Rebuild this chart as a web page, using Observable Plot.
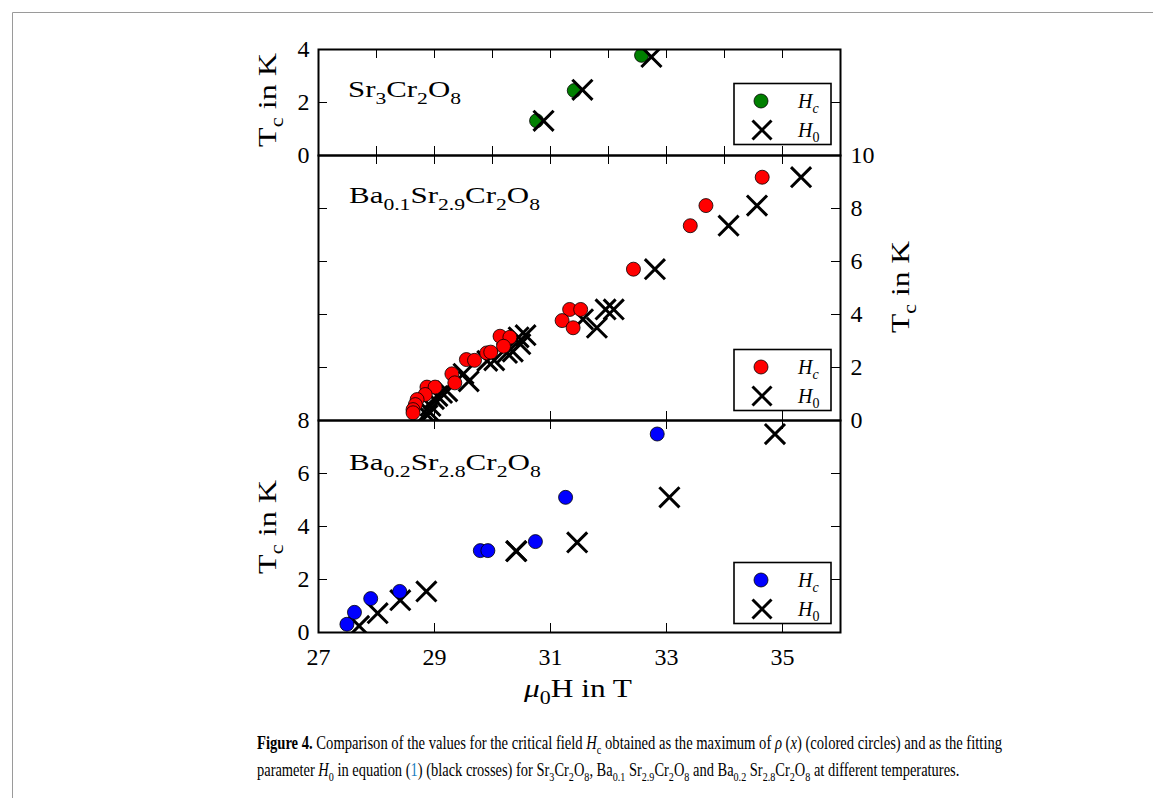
<!DOCTYPE html>
<html><head><meta charset="utf-8">
<script src="https://cdn.jsdelivr.net/npm/d3@7"></script>
<script src="https://cdn.jsdelivr.net/npm/@observablehq/plot@0.6"></script>
<style>
body{margin:0;background:#fff;}
#wrap{position:relative;width:1153px;height:798px;overflow:hidden;background:#fff;}
#wrap > svg{position:absolute;left:0;margin:0;}
</style></head><body><div id="wrap"></div>
<script>
// ---------- data ----------
const xTicksAll = [28, 29, 30, 31, 32, 33, 34, 35];
const xTicksOdd = [29, 31, 33, 35];
const xTickLabels = [27, 29, 31, 33, 35];

// Sr3Cr2O8
const srHcField = [30.76, 31.41, 32.57];
const srHcTemp  = [1.31, 2.45, 3.78];
const srH0Field = [30.88, 31.55, 32.74];
const srH0Temp  = [1.31, 2.48, 3.72];

// Ba0.1Sr2.9Cr2O8
const b1HcField = [34.65, 33.68, 33.41, 32.43, 31.33, 31.52, 31.20, 31.39, 30.13, 30.30, 30.19, 29.90, 29.97, 29.55, 29.69, 29.30, 29.35, 28.87, 29.01, 28.84, 28.70, 28.67, 28.63, 28.63];
const b1HcTemp  = [9.18, 8.11, 7.35, 5.71, 4.19, 4.19, 3.77, 3.50, 3.18, 3.14, 2.80, 2.55, 2.58, 2.30, 2.27, 1.76, 1.42, 1.26, 1.26, 0.98, 0.79, 0.60, 0.41, 0.29];
const b1H0Field = [35.32, 34.56, 34.07, 32.80, 31.95, 32.09, 31.56, 31.80, 30.57, 30.45, 30.48, 30.25, 30.35, 29.91, 30.03, 29.50, 29.59, 29.13, 29.22, 29.05, 28.99, 28.93, 28.90, 28.88];
const b1H0Temp  = [9.18, 8.11, 7.35, 5.71, 4.19, 4.19, 3.82, 3.50, 3.22, 3.14, 2.88, 2.55, 2.60, 2.25, 2.27, 1.76, 1.48, 1.04, 1.10, 0.92, 0.81, 0.55, 0.35, 0.20];

// Ba0.2Sr2.8Cr2O8
const b2HcField = [32.84, 31.26, 30.74, 29.79, 29.92, 28.40, 27.90, 27.62, 27.49];
const b2HcTemp  = [7.49, 5.10, 3.43, 3.09, 3.09, 1.55, 1.28, 0.76, 0.31];
const b2H0Field = [34.87, 33.05, 31.46, 30.41, 30.41, 28.86, 28.41, 28.02, 27.70];
const b2H0Temp  = [7.49, 5.10, 3.40, 3.07, 3.07, 1.55, 1.22, 0.73, 0.25];

const zip = (xs, ts) => xs.map((x, i) => ({x, t: ts[i]}));

// ---------- layout ----------
const W = 1153, ML = 318, MR = 313, PXU = 26.5, MT = 30;
const FONT = "'Liberation Serif', 'DejaVu Serif', serif";
const wrap = document.getElementById("wrap");

function panel({frameTop, ymax, yIn, leftLabels, rightLabels, topTicks, bottomTicks, hc, h0, color, crossesOnTop, xLabels}) {
  const innerH = ymax * PXU, innerW = W - ML - MR;
  const MB = xLabels ? 50 : 30;
  const circles = Plot.dot(hc, {x: "x", y: "t", r: 7, fill: color, stroke: "black", strokeWidth: 0.8, clip: true});
  const crosses = Plot.dot(h0, {x: "x", y: "t", r: 9.2, symbol: "times", stroke: "black", strokeWidth: 3, clip: true});
  const marks = [
    ...(crossesOnTop ? [circles, crosses] : [crosses, circles]),
    Plot.tickX(topTicks, {x: d => d, insetBottom: innerH - 9, stroke: "black"}),
    Plot.tickX(bottomTicks, {x: d => d, insetTop: innerH - 9, stroke: "black"}),
    Plot.tickY(yIn, {y: d => d, insetRight: innerW - 9, stroke: "black"}),
    Plot.tickY(yIn, {y: d => d, insetLeft: innerW - 9, stroke: "black"}),
    Plot.frame({stroke: "black", strokeWidth: 2})
  ];
  if (leftLabels) marks.push(Plot.axisY({anchor: "left", ticks: leftLabels, tickSize: 0, tickPadding: 9, label: null, tickFormat: d => String(d)}));
  if (rightLabels) marks.push(Plot.axisY({anchor: "right", ticks: rightLabels, tickSize: 0, tickPadding: 10, label: null, tickFormat: d => String(d)}));
  if (xLabels) marks.push(Plot.axisX({ticks: xLabels, tickSize: 0, tickPadding: 15, label: null, tickFormat: d => String(d)}));
  const svg = Plot.plot({
    width: W, height: innerH + MT + MB,
    marginLeft: ML, marginRight: MR, marginTop: MT, marginBottom: MB,
    x: {domain: [27, 36], axis: null},
    y: {domain: [0, ymax], axis: null},
    style: {fontFamily: FONT, fontSize: "24px", background: "transparent", overflow: "visible", color: "black"},
    marks
  });
  svg.style.position = "absolute";
  svg.style.top = (frameTop - MT) + "px";
  wrap.appendChild(svg);
}

const top1 = 48.5, top2 = top1 + 4 * PXU, top3 = top2 + 10 * PXU;
panel({frameTop: top1, ymax: 4, yIn: [2], leftLabels: [0, 2, 4], topTicks: xTicksAll, bottomTicks: xTicksAll,
  hc: zip(srHcField, srHcTemp), h0: zip(srH0Field, srH0Temp), color: "#008000", crossesOnTop: true});
panel({frameTop: top2, ymax: 10, yIn: [2, 4, 6, 8], rightLabels: [0, 2, 4, 6, 8, 10], topTicks: xTicksAll, bottomTicks: xTicksOdd,
  hc: zip(b1HcField, b1HcTemp), h0: zip(b1H0Field, b1H0Temp), color: "#ff0000", crossesOnTop: false});
panel({frameTop: top3, ymax: 8, yIn: [2, 4, 6], leftLabels: [0, 2, 4, 6, 8], topTicks: xTicksOdd, bottomTicks: xTicksOdd,
  hc: zip(b2HcField, b2HcTemp), h0: zip(b2H0Field, b2H0Temp), color: "#0000ff", crossesOnTop: false, xLabels: xTickLabels});

// ---------- overlay texts ----------
const ov = d3.select(wrap).append("svg").attr("width", W).attr("height", 798)
  .style("position", "absolute").style("top", "0px").style("left", "0px")
  .attr("font-family", FONT).attr("fill", "black");

// rich text with sub-scripts; optionally scaled horizontally to a target length
function rich(g, segs, size, opts = {}) {
  const x = opts.x || 0, y = opts.y || 0;
  const t = g.append("text").attr("font-size", size).attr("x", 0).attr("y", 0);
  if (opts.anchor) t.attr("text-anchor", opts.anchor);
  let shift = 0;
  for (const s of segs) {
    const seg = typeof s === "string" ? {t: s} : s;
    const target = seg.sub ? size * 0.28 : 0;
    const ts = t.append("tspan").text(seg.t).attr("dy", target - shift);
    shift = target;
    if (seg.sub) ts.attr("font-size", size * 0.7);
    if (seg.it) ts.attr("font-style", "italic");
    if (seg.b) ts.attr("font-weight", "bold");
    if (seg.color) ts.attr("fill", seg.color);
  }
  let sx = 1;
  if (opts.len) {
    const w = t.node().getComputedTextLength();
    if (w > 0) sx = opts.len / w;
  }
  t.attr("transform", `translate(${x},${y})${opts.rot ? ` rotate(${opts.rot})` : ""} scale(${sx},1)`);
  return t;
}

// border
ov.append("path").attr("d", "M12.5,798 L12.5,12.5 L1153,12.5").attr("fill", "none").attr("stroke", "#9a9a9a").attr("stroke-width", 1);

// panel labels
const sub = t => ({t, sub: true});
rich(ov, ["Sr", sub("3"), "Cr", sub("2"), "O", sub("8")], 24, {x: 348, y: 97, len: 113});
rich(ov, ["Ba", sub("0.1"), "Sr", sub("2.9"), "Cr", sub("2"), "O", sub("8")], 24, {x: 349, y: 203, len: 191});
rich(ov, ["Ba", sub("0.2"), "Sr", sub("2.8"), "Cr", sub("2"), "O", sub("8")], 24, {x: 349, y: 470, len: 192});

// axis titles
const tcLabel = ["T", sub("c"), " in K"];
rich(ov, tcLabel, 26, {anchor: "middle", x: 276, y: 100, rot: -90, len: 94});
rich(ov, tcLabel, 26, {anchor: "middle", x: 909, y: 287, rot: -90, len: 92});
rich(ov, tcLabel, 26, {anchor: "middle", x: 276, y: 527, rot: -90, len: 94});
rich(ov, [{t: "μ", it: true}, sub("0"), "H in T"], 26, {x: 578, y: 697, anchor: "middle", len: 108});

// legends
const legends = [
  {top: 83.5, color: "#008000"},
  {top: 349.5, color: "#ff0000"},
  {top: 562.5, color: "#0000ff"}
];
for (const L of legends) {
  const g = ov.append("g");
  g.append("rect").attr("x", 734).attr("y", L.top).attr("width", 97).attr("height", 61)
    .attr("fill", "white").attr("stroke", "black").attr("stroke-width", 1.6);
  g.append("circle").attr("cx", 761).attr("cy", L.top + 17.5).attr("r", 7).attr("fill", L.color).attr("stroke", "black").attr("stroke-width", 0.8);
  const cx = 762, cy = L.top + 46.5, h = 9.5;
  g.append("path").attr("d", `M${cx - h},${cy - h}L${cx + h},${cy + h}M${cx - h},${cy + h}L${cx + h},${cy - h}`)
    .attr("stroke", "black").attr("stroke-width", 3).attr("fill", "none");
  rich(g, [{t: "H", it: true}, {t: "c", it: true, sub: true}], 20, {x: 798, y: L.top + 24});
  rich(g, [{t: "H", it: true}, sub("0")], 20, {x: 798, y: L.top + 53});
}

// caption
const CAP = 18;
rich(ov, [{t: "Figure 4.", b: true}, " Comparison of the values for the critical field ", {t: "H", it: true}, sub("c"),
  " obtained as the maximum of ", {t: "ρ", it: true}, " (", {t: "x", it: true}, ") (colored circles) and as the fitting"],
  CAP, {x: 257, y: 749, len: 746});
rich(ov, ["parameter ", {t: "H", it: true}, sub("0"), " in equation (", {t: "1", color: "#1f7fc0"}, ") (black crosses) for Sr", sub("3"), "Cr", sub("2"), "O", sub("8"),
  ", Ba", sub("0.1"), " Sr", sub("2.9"), "Cr", sub("2"), "O", sub("8"), " and Ba", sub("0.2"), " Sr", sub("2.8"), "Cr", sub("2"), "O", sub("8"),
  " at different temperatures."], CAP, {x: 257, y: 776, len: 703});
</script></body></html>
